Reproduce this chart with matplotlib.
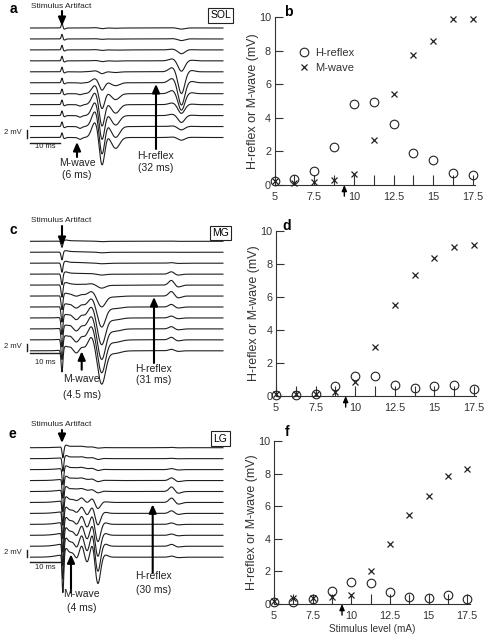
import numpy as np
import matplotlib.pyplot as plt

plt.rcParams['font.family'] = ['Liberation Sans', 'DejaVu Sans']

W, H = 484, 639

# stimulus levels (mA): one trace and one point per level
stim_ma = [5, 6.25, 7.5, 8.75, 10, 11.25, 12.5, 13.75, 15, 16.25, 17.5]
xtick_text = ['5', '', '7.5', '', '10', '', '12.5', '', '15', '', '17.5']
threshold_ma = 9.4

sol_h = [0.24, 0.36, 0.85, 2.29, 4.81, 4.93, 3.64, 1.93, 1.51, 0.74, 0.6]
sol_m = [0.24, 0.14, 0.2, 0.28, 0.66, 2.66, 5.39, 7.73, 8.6, 9.9, 9.9]
mg_h = [0.05, 0.05, 0.15, 0.63, 1.24, 1.2, 0.69, 0.5, 0.6, 0.67, 0.4]
mg_m = [0.1, 0.15, 0.15, 0.25, 0.83, 2.98, 5.5, 7.34, 8.38, 9.03, 9.15]
lg_h = [0.1, 0.1, 0.29, 0.78, 1.33, 1.29, 0.76, 0.41, 0.37, 0.55, 0.33]
lg_m = [0.2, 0.35, 0.39, 0.45, 0.55, 2.0, 3.67, 5.45, 6.6, 7.84, 8.27]

muscles = ['SOL', 'MG', 'LG']
m_latency = ['(6 ms)', '(4.5 ms)', '(4 ms)']
h_latency = ['(32 ms)', '(31 ms)', '(30 ms)']

# waveform pieces: (time ms, weight, width ms)
# artifact weights are per mA for MG and LG, fixed for SOL
sol_art = [(0.0, 1.3, 0.25), (0.8, -0.3, 0.4)]
mg_art = [(0.0, -0.36, 0.3), (1.2, 0.05, 0.8), (4.0, 0.03, 3.0)]
lg_art = [(-0.2, 0.06, 0.15), (0.3, -0.62, 0.3), (1.3, 0.08, 0.6), (4.5, 0.08, 4.0)]
sol_mw = [(6.0, -0.05, 0.6), (11.0, 0.42, 1.1), (13.3, -0.8, 0.85), (15.4, 0.05, 0.6), (17.9, -0.3, 1.3)]
mg_mw = [(2.8, 0.05, 0.5), (4.8, -0.12, 0.8), (6.6, 0.06, 0.7), (9.9, 0.42, 1.2), (13.2, -1.0, 1.3), (17.5, -0.08, 2.0)]
lg_mw = [(4.9, -0.2, 0.7), (6.6, 0.25, 0.7), (8.4, -0.3, 0.8), (10.2, 0.45, 0.8), (11.9, -0.95, 0.9), (14.2, 0.08, 1.0)]
sol_hw = [(36.8, 0.25, 1.2), (39.8, -1.25, 1.1), (43.0, 0.08, 1.2)]
mg_hw = [(36.5, 1.1, 0.9), (38.6, -0.45, 1.1)]
lg_hw = [(36.6, 1.0, 0.9), (38.6, -0.4, 1.1)]


def wave(t, comps, scale):
    y = np.zeros_like(t)
    for c, w, s in comps:
        y += scale * w * np.exp(-0.5 * ((t - c) / s) ** 2)
    return y


fig = plt.figure(figsize=(W / 100, H / 100), dpi=100)


def px_axes(l, t, r, b):
    return fig.add_axes([l / W, 1 - b / H, (r - l) / W, (b - t) / H])


# ---- left: EMG traces ----
t = np.arange(-10.5, 53.7, 0.05)
MV_PX = 2 / 7.3      # mV per pixel
STIM_PX = 62          # stimulus position in pixels
MS_PX = 3             # pixels per ms
panel_top = [0, 213, 420]
first_base = [28, 241.3, 447.7]
bar_gap = [-1.6, -0.6, -1.2]
arts = [sol_art, mg_art, lg_art]
art_per_ma = [False, True, True]
mws = [sol_mw, mg_mw, lg_mw]
hws = [sol_hw, mg_hw, lg_hw]
m_amps = [sol_m, mg_m, lg_m]
h_amps = [sol_h, mg_h, lg_h]

for k in range(3):
    top = panel_top[k]
    ax = px_axes(0, top, 242, top + 212)
    ax.set_xlim(-STIM_PX / MS_PX, (242 - STIM_PX) / MS_PX)
    ax.set_ylim(-(top + 212 - first_base[k]) * MV_PX, (first_base[k] - top) * MV_PX)
    ax.axis('off')
    for i, mA in enumerate(stim_ma):
        art_scale = mA if art_per_ma[k] else 1.0
        y = (wave(t, arts[k], art_scale) + wave(t, mws[k], m_amps[k][i])
             + wave(t, hws[k], h_amps[k][i]) - 3.0 * i)
        ax.plot(t, y, color='#1e1e1e', lw=0.8, clip_on=False)
    base = -3.0 * (len(stim_ma) - 1)
    # scale bars
    ax.plot([-10.5, -0.5], [base + bar_gap[k]] * 2, color='#1e1e1e', lw=1.0)
    ax.plot([-11.7, -11.7], [base, base + 2], color='#1e1e1e', lw=1.0)

# ---- right: recruitment curves ----
right_boxes = [(274.5, 17, 475.3, 185), (276, 231, 476.3, 396), (274, 441, 469.6, 604)]
for k, (l, tp, r, b) in enumerate(right_boxes):
    ax = px_axes(l, tp, r, b)
    ax.plot(stim_ma, h_amps[k], 'o', ms=6.2, mfc='none', mec='#222222', mew=0.8,
            clip_on=False, label='H-reflex', zorder=3)
    ax.plot(stim_ma, m_amps[k], 'x', ms=4.5, color='#222222', mew=0.9,
            clip_on=False, label='M-wave', zorder=3)
    ax.set_xlim(5, 17.65)
    ax.set_ylim(0, 10)
    ax.set_xticks(stim_ma, xtick_text)
    ax.set_yticks([0, 2, 4, 6, 8, 10])
    ax.tick_params(direction='in', length=7, width=0.8, labelsize=7.8,
                   colors='#333333', pad=5)
    ax.tick_params(axis='y', length=6, pad=2.5)
    for s in ['top', 'right']:
        ax.spines[s].set_visible(False)
    for s in ['left', 'bottom']:
        ax.spines[s].set_color('#333333')
        ax.spines[s].set_linewidth(0.8)
    ax.set_ylabel('H-reflex or M-wave (mV)', fontsize=9, color='#333333', labelpad=0)
    ax.annotate('', xy=(threshold_ma, 0), xytext=(0, -8), textcoords='offset points',
                arrowprops=dict(arrowstyle='-|>,head_width=0.15,head_length=0.35',
                                color='k', lw=1.0, shrinkA=0, shrinkB=0),
                annotation_clip=False)
    ax.patch.set_alpha(0)
    if k == 0:
        ax.legend(frameon=False, loc='center left', bbox_to_anchor=(0.12, 0.741),
                  handlelength=1, handletextpad=0.5, labelspacing=0.4,
                  borderpad=0, borderaxespad=0, fontsize=8, labelcolor='#333333')
    if k == 2:
        ax.set_xlabel('Stimulus level (mA)', fontsize=7.2, color='#333333', labelpad=2)

# ---- overlay for labels and arrows (pixel coords) ----
ov = fig.add_axes([0, 0, 1, 1])
ov.set_xlim(0, W)
ov.set_ylim(H, 0)
ov.axis('off')


def arrow(x, y_tail, y_head):
    ov.annotate('', xy=(x, y_head), xytext=(x, y_tail),
                arrowprops=dict(arrowstyle='-|>,head_width=0.22,head_length=0.5',
                                color='k', lw=1.5, shrinkA=0, shrinkB=0))


for s, (x, y) in zip('abcdef', [(13, 9), (288, 12), (13, 230), (287, 226), (12, 434), (287, 432)]):
    ov.text(x, y, s, fontsize=10, fontweight='bold', ha='center', va='center')

art_text_y = [6, 220, 424]
art_arrow = [(11, 26), (226, 246), (430, 443)]
box_y = [15.5, 233, 438.5]
m_arrow = [(77, 157, 142), (81.7, 369.7, 351.3), (71, 592.7, 554.3)]
m_text = [(77, 163, 175), (81.7, 379, 394.7), (81.7, 594.3, 607.7)]
h_arrow = [(156, 149, 84), (154, 363, 297), (152.7, 572.7, 504.3)]
h_text = [(156, 156, 168), (154, 368.7, 379.7), (153.3, 576, 590)]
bar_text_y = [(133, 146.7), (346.3, 362.3), (552, 567.7)]

for k in range(3):
    ov.text(61, art_text_y[k], 'Stimulus Artifact', fontsize=6, ha='center', va='center',
            color='#222222')
    arrow(62, *art_arrow[k])
    ov.text(220.5, box_y[k], muscles[k], fontsize=7.5, ha='center', va='center',
            bbox=dict(boxstyle='square,pad=0.2', fc='white', ec='#222222', lw=0.8))
    arrow(*m_arrow[k])
    x, y1, y2 = m_text[k]
    ov.text(x, y1, 'M-wave', fontsize=7.5, ha='center', va='center', color='#222222')
    ov.text(x, y2, m_latency[k], fontsize=7.5, ha='center', va='center', color='#222222')
    arrow(*h_arrow[k])
    x, y1, y2 = h_text[k]
    ov.text(x, y1, 'H-reflex', fontsize=7.5, ha='center', va='center', color='#222222')
    ov.text(x, y2, h_latency[k], fontsize=7.5, ha='center', va='center', color='#222222')
    ov.text(22, bar_text_y[k][0], '2 mV', fontsize=5.5, ha='right', va='center', color='#222222')
    ov.text(45, bar_text_y[k][1], '10 ms', fontsize=5.5, ha='center', va='center', color='#222222')

fig.savefig('out.png', dpi=100)
